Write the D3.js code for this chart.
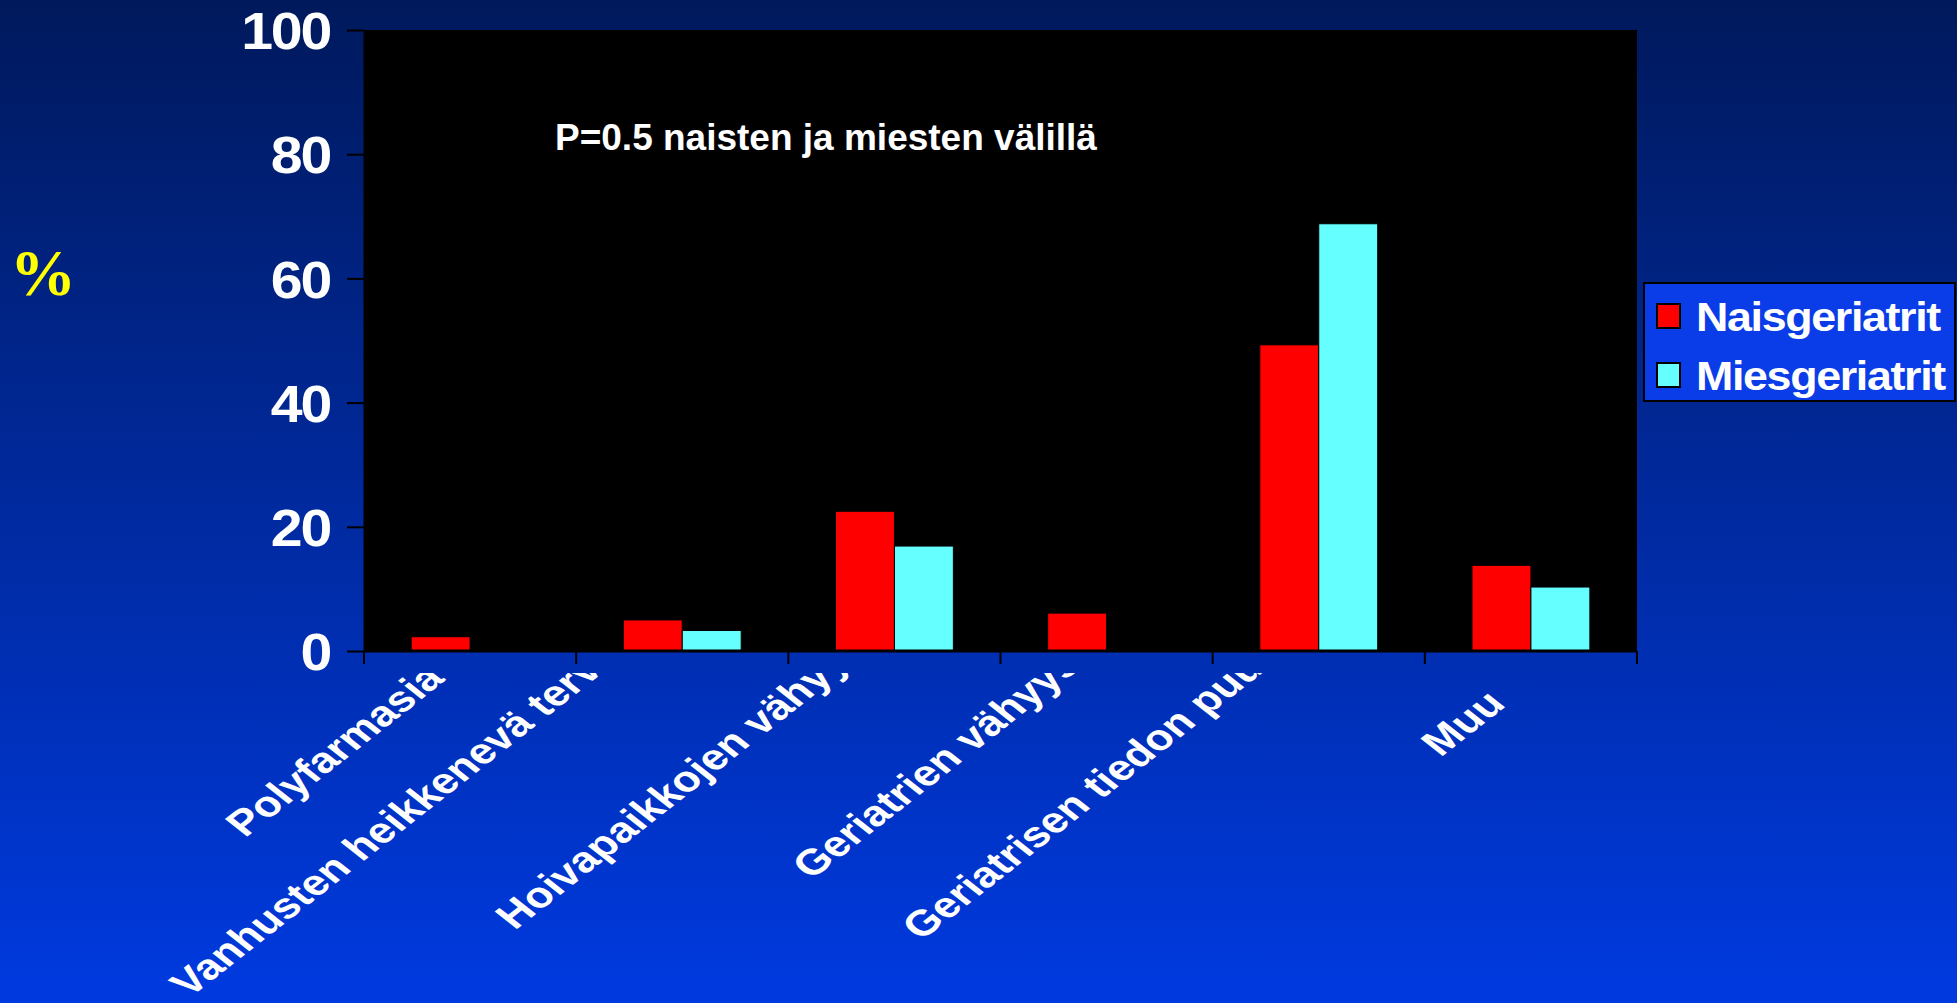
<!DOCTYPE html>
<html>
<head>
<meta charset="utf-8">
<script src="https://cdn.jsdelivr.net/npm/d3@7"></script>
<style>
  html, body { margin: 0; padding: 0; background: #001a5e; }
  svg { display: block; }
</style>
</head>
<body>
<script>
// ---- data ----
const categories = ["Polyfarmasia", "Vanhusten heikkenevä terveys", "Hoivapaikkojen vähyys", "Geriatrien vähyys", "Geriatrisen tiedon puute", "Muu"];
const seriesNames = ["Naisgeriatrit", "Miesgeriatrit"];
const naisValues = [2.3, 5.0, 22.5, 6.1, 49.3, 13.8];
const miesValues = [0, 3.3, 16.9, 0, 68.8, 10.3];
const yTicks = [0, 20, 40, 60, 80, 100];
const seriesColors = ["#ff0000", "#66ffff"];
const noteText = "P=0.5 naisten ja miesten välillä";
const yUnit = "%";

const W = 1957, H = 1003;
const SANS = "'Liberation Sans', Arial, sans-serif";
const SERIF = "'Liberation Serif', 'Times New Roman', serif";
const svg = d3.select("body").append("svg").attr("width", W).attr("height", H)
  .style("font-family", SANS).style("font-weight", "bold");

const defs = svg.append("defs");
const grad = defs.append("linearGradient").attr("id", "bg").attr("x1", 0).attr("y1", 0).attr("x2", 0).attr("y2", 1);
grad.append("stop").attr("offset", "0%").attr("stop-color", "#00195c");
grad.append("stop").attr("offset", "100%").attr("stop-color", "#003ae0");
svg.append("rect").attr("width", W).attr("height", H).attr("fill", "url(#bg)");

const x = d3.scaleBand().domain(categories).range([364, 1637]).paddingInner(0).paddingOuter(0);
const xs = d3.scaleBand().domain(seriesNames).range([0, x.bandwidth()]).paddingInner(0).paddingOuter(0.8);
const y = d3.scaleLinear().domain([0, 100]).range([651, 30]);
const color = d3.scaleOrdinal().domain(seriesNames).range(seriesColors);

// plot area
svg.append("rect")
  .attr("x", x.range()[0]).attr("y", y(100))
  .attr("width", x.range()[1] - x.range()[0]).attr("height", y(0) - y(100))
  .attr("fill", "#000");

// bars
const rows = categories.map((c, i) => ({ cat: c, vals: [naisValues[i], miesValues[i]] }));
const groups = svg.append("g").selectAll("g").data(rows).join("g")
  .attr("transform", d => `translate(${x(d.cat)},0)`);
groups.selectAll("rect").data(d => d.vals.map((v, j) => ({ s: seriesNames[j], v })))
  .join("rect")
  .attr("x", d => xs(d.s)).attr("width", xs.bandwidth())
  .attr("y", d => y(d.v)).attr("height", d => y(0) - y(d.v))
  .attr("fill", d => color(d.s))
  .attr("stroke", "#000").attr("stroke-width", 1);

// y axis
const yAxis = svg.append("g").attr("transform", `translate(${x.range()[0]},0)`)
  .call(d3.axisLeft(y).tickValues(yTicks).tickSize(17).tickSizeOuter(0).tickPadding(18));
yAxis.select(".domain").attr("stroke", "#000").attr("stroke-width", 2);
yAxis.selectAll(".tick line").attr("stroke", "#000").attr("stroke-width", 2);
yAxis.selectAll(".tick text")
  .attr("x", 0).attr("dy", "0.36em")
  .attr("transform", "translate(-34,0) scale(1.1,1)")
  .attr("fill", "#fff")
  .style("font-size", "52px").style("font-weight", "bold").style("font-family", SANS)
  .style("letter-spacing", "-2px");

// x axis line and ticks at band boundaries
const xAxis = svg.append("g");
xAxis.append("line").attr("x1", x.range()[0]).attr("x2", x.range()[1])
  .attr("y1", y(0)).attr("y2", y(0)).attr("stroke", "#000").attr("stroke-width", 3);
const bounds = categories.map(c => x(c)).concat([x.range()[1]]);
xAxis.selectAll("line.tk").data(bounds).join("line").attr("class", "tk")
  .attr("x1", d => d).attr("x2", d => d).attr("y1", y(0)).attr("y2", y(0) + 13)
  .attr("stroke", "#000").attr("stroke-width", 2);

// x labels (clipped like the original)
defs.append("clipPath").attr("id", "lblclip")
  .append("rect").attr("x", 0).attr("y", y(0) + 22).attr("width", W).attr("height", H);
const lblG = svg.append("g").attr("clip-path", "url(#lblclip)");
lblG.selectAll("text").data(categories).join("text")
  .text(d => d)
  .attr("fill", "#fff").style("font-size", "36px").attr("text-anchor", "end")
  .each(function (d) {
    const L = this.getComputedTextLength();
    const ex = x(d) + x.bandwidth() / 2 - 24;
    const ey = y(0) + 67 - 0.17 * L;
    d3.select(this).attr("transform", `translate(${ex},${ey}) scale(1.27,1) rotate(-45)`);
  });

// note text
svg.append("text").attr("x", 555).attr("y", 150)
  .attr("fill", "#fff").style("font-size", "37px").text(noteText);

// y unit
svg.append("text").attr("x", 43).attr("y", 295).attr("text-anchor", "middle")
  .attr("fill", "#ffff00")
  .style("font-size", "66px").style("font-family", SERIF).style("font-weight", "bold")
  .text(yUnit);

// legend
const leg = svg.append("g").attr("transform", "translate(1644,283)");
leg.append("rect").attr("width", 311).attr("height", 118)
  .attr("fill", "#0a3ce8").attr("stroke", "#000").attr("stroke-width", 2);
const li = leg.selectAll("g").data(seriesNames).join("g")
  .attr("transform", (d, i) => `translate(0,${21 + i * 59})`);
li.append("rect").attr("x", 13).attr("width", 23).attr("height", 24)
  .attr("fill", d => color(d)).attr("stroke", "#000").attr("stroke-width", 2);
li.append("text").attr("transform", "translate(52,27) scale(1.12,1)")
  .attr("fill", "#fff").style("font-size", "40px").style("letter-spacing", "-1.2px")
  .text(d => d);
</script>
</body>
</html>
